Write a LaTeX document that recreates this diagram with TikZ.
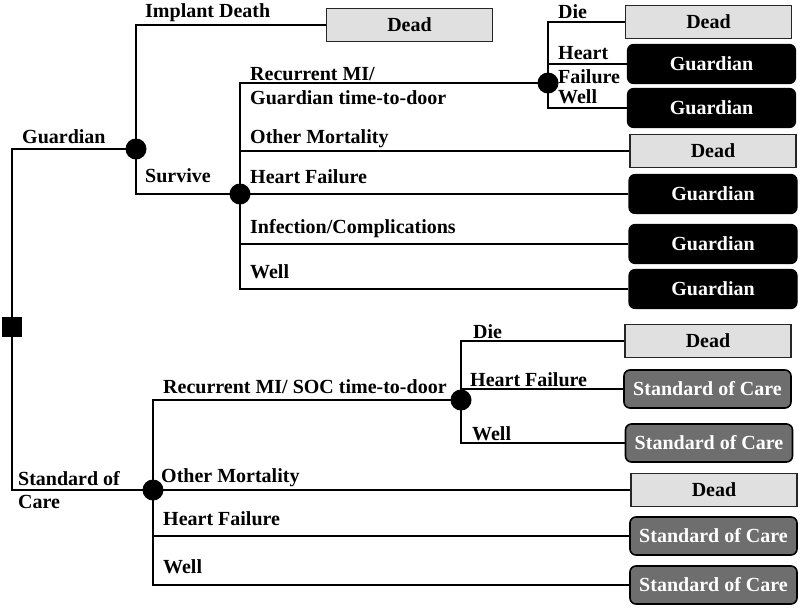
\documentclass[tikz,border=0pt]{standalone}
\usepackage{fontspec}
\setmainfont{Liberation Serif}
\usetikzlibrary{backgrounds}
\begin{document}
\begin{tikzpicture}[x=1pt,y=-1pt,
  every node/.style={font=\bfseries\fontsize{20}{23.5}\selectfont},
  br/.style={line width=1.8pt, black},
  chance/.style={circle, fill=black, minimum size=21pt, inner sep=0pt},
  decision/.style={rectangle, fill=black, minimum size=20pt, inner sep=0pt},
  deadbox/.style={draw=black!85, line width=1.6pt, fill=black!12, minimum width=166pt, minimum height=33pt, inner sep=0pt},
  guardbox/.style={draw=black, line width=1.2pt, fill=black, text=white, rounded corners=6pt, minimum width=168pt, minimum height=39pt, inner sep=0pt},
  socbox/.style={draw=black, line width=1.6pt, fill=black!57, text=white, rounded corners=6pt, minimum width=167pt, minimum height=38pt, inner sep=0pt},
  lab/.style={anchor=base west, inner sep=0pt},
  lab2/.style={anchor=west, inner sep=0pt, align=left},
]
\useasboundingbox (0,0) rectangle (800,611);

% decision and chance nodes
\node[decision] (root) at (12,327) {};
\node[chance] (n1) at (136,149) {};
\node[chance] (n2) at (240,194) {};
\node[chance] (n3) at (548,83) {};
\node[chance] (n4) at (153,490) {};
\node[chance] (n5) at (461,400) {};

% terminal boxes
\node[deadbox]  (b1)  at (409.5,25) {Dead};
\node[deadbox]  (b2)  at (708.5,22) {Dead};
\node[guardbox] (b3)  at (711.5,64) {Guardian};
\node[guardbox] (b4)  at (711.5,108) {Guardian};
\node[deadbox]  (b5)  at (713,151) {Dead};
\node[guardbox] (b6)  at (713,194) {Guardian};
\node[guardbox] (b7)  at (713,244) {Guardian};
\node[guardbox] (b8)  at (713,289) {Guardian};
\node[deadbox]  (b9)  at (708,341) {Dead};
\node[socbox]   (b10) at (707.5,389) {Standard of Care};
\node[socbox]   (b11) at (709,443) {Standard of Care};
\node[deadbox]  (b12) at (714,490) {Dead};
\node[socbox]   (b13) at (713.5,536) {Standard of Care};
\node[socbox]   (b14) at (713.5,585) {Standard of Care};

% branches
\begin{pgfonlayer}{background}
\fill[white] (0,0) rectangle (800,611);
\draw[br] (root.center) |- (n1.center);
\draw[br] (root.center) |- (n4.center);
\draw[br] (n1.center) |- (b1.west);
\draw[br] (n1.center) |- (n2.center);
\draw[br] (n2.center) |- (n3.center);
\draw[br] (n2.center) |- (b5.west);
\draw[br] (n2.center) -- (b6.west);
\draw[br] (n2.center) |- (b7.west);
\draw[br] (n2.center) |- (b8.west);
\draw[br] (n3.center) |- (b2.west);
\draw[br] (n3.center) |- (b3.west);
\draw[br] (n3.center) |- (b4.west);
\draw[br] (n4.center) |- (n5.center);
\draw[br] (n4.center) -- (b12.west);
\draw[br] (n4.center) |- (b13.west);
\draw[br] (n4.center) |- (b14.west);
\draw[br] (n5.center) |- (b9.west);
\draw[br] (n5.center) |- (b10.west);
\draw[br] (n5.center) |- (b11.west);
\end{pgfonlayer}

% labels
\node[lab] (l1) at (145,17) {Implant Death};
\node[lab] (l2) at (22,143) {Guardian};
\node[lab] (l3) at (145,182) {Survive};
\node[lab2] (l4) at (250,86) {Recurrent MI/\\Guardian time-to-door};
\node[lab] (l5) at (250,143) {Other Mortality};
\node[lab] (l6) at (250,183) {Heart Failure};
\node[lab] (l7) at (250,233) {Infection/Complications};
\node[lab] (l8) at (250,278) {Well};
\node[lab] (l9) at (558,18) {Die};
\node[lab2] (l10) at (558,65) {Heart\\Failure};
\node[lab] (l11) at (558,103) {Well};
\node[lab2] (l12) at (18,490) {Standard of\\Care};
\node[lab] (l13) at (163,393) {Recurrent MI/ SOC time-to-door};
\node[lab] (l14) at (161,482) {Other Mortality};
\node[lab] (l15) at (163,525) {Heart Failure};
\node[lab] (l16) at (163,573) {Well};
\node[lab] (l17) at (473,338) {Die};
\node[lab] (l18) at (470,386) {Heart Failure};
\node[lab] (l19) at (472,440) {Well};
\end{tikzpicture}
\end{document}
